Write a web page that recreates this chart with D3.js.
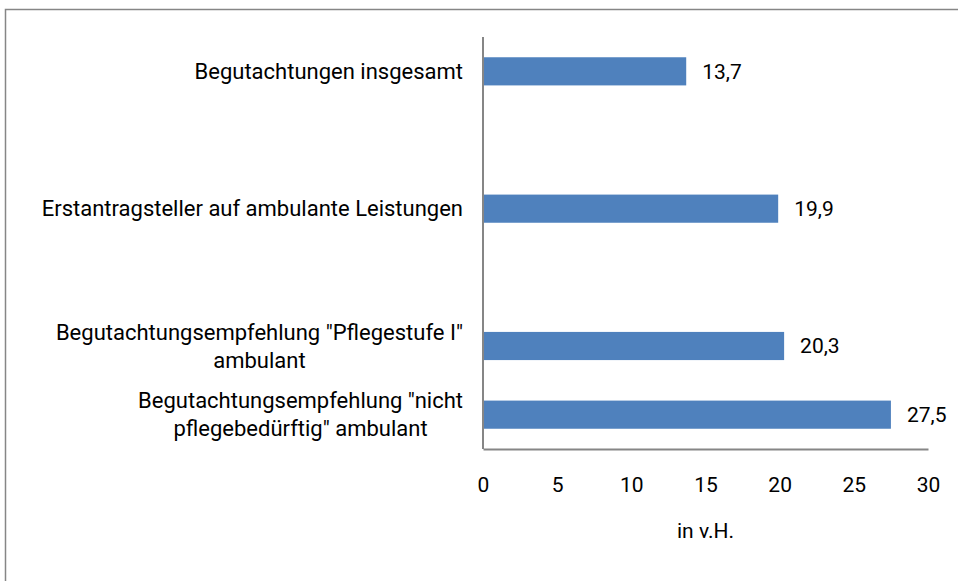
<!DOCTYPE html>
<html>
<head>
<meta charset="utf-8">
<script src="https://cdn.jsdelivr.net/npm/d3@7"></script>
<style>
  html, body { margin: 0; padding: 0; background: #fff; }
  svg { display: block; }
  text { font-family: Roboto, "Liberation Sans", sans-serif; fill: #000; }
</style>
</head>
<body>
<div id="chart"></div>
<script>
// Categories top to bottom; empty slots keep the original spacing
const categories = [
    ["Begutachtungen insgesamt"],
    [],
    ["Erstantragsteller auf ambulante Leistungen"],
    [],
    ["Begutachtungsempfehlung \"Pflegestufe I\"", "ambulant"],
    ["Begutachtungsempfehlung \"nicht", "pflegebedürftig\" ambulant"]
];
const values = [13.7, null, 19.9, null, 20.3, 27.5];
const xTicks = [0, 5, 10, 15, 20, 25, 30];
const xTitle = "in v.H.";

const width = 958, height = 581;
const margins = { top: 37, right: 30, bottom: 132, left: 483 };

const svg = d3.select("#chart").append("svg")
    .attr("width", width)
    .attr("height", height);

// Outer frame (runs off the right and bottom edge)
svg.append("path")
    .attr("d", `M5.5,${height + 5}V9.5H${width + 5}`)
    .attr("fill", "none")
    .attr("stroke", "#868686")
    .attr("stroke-width", 1.5);

const x = d3.scaleLinear()
    .domain([0, 30])
    .range([margins.left, width - margins.right]);

const y = d3.scaleBand()
    .domain(d3.range(categories.length))
    .range([margins.top, height - margins.bottom])
    .paddingInner(0.59)
    .paddingOuter(0.295);

const rows = categories.map((lines, i) => ({ i, lines, value: values[i] }));

// Bars
svg.append("g")
    .selectAll("rect")
    .data(rows.filter(d => d.value != null))
    .join("rect")
    .attr("x", x(0))
    .attr("y", d => y(d.i))
    .attr("width", d => x(d.value) - x(0))
    .attr("height", y.bandwidth())
    .attr("fill", "#4f81bd");

// Value labels
svg.append("g")
    .selectAll("text")
    .data(rows.filter(d => d.value != null))
    .join("text")
    .attr("x", d => x(d.value) + 16)
    .attr("y", d => y(d.i) + y.bandwidth() / 2)
    .attr("dy", "0.35em")
    .attr("font-size", 21)
    .text(d => d3.format(".1f")(d.value).replace(".", ","));

// X axis (no tick marks)
const xAxis = svg.append("g")
    .attr("transform", `translate(0,${height - margins.bottom})`)
    .call(d3.axisBottom(x).tickValues(xTicks).tickSize(0).tickPadding(28));
xAxis.attr("font-family", null);
xAxis.select(".domain").attr("stroke", "#868686").attr("stroke-width", 2);
xAxis.selectAll("text").attr("font-size", 21).attr("fill", "#000");

// Y axis line
svg.append("line")
    .attr("x1", x(0)).attr("x2", x(0))
    .attr("y1", margins.top).attr("y2", height - margins.bottom)
    .attr("stroke", "#868686")
    .attr("stroke-width", 2);

// Category labels, block right aligned, lines centred within the block
const labelRight = 463;
const lineH = 28;
const labels = svg.append("g")
    .selectAll("g")
    .data(rows.filter(d => d.lines.length))
    .join("g");

labels.each(function (d) {
    const g = d3.select(this);
    const cy = y(d.i) + y.bandwidth() / 2;
    const n = d.lines.length;
    const texts = d.lines.map((line, k) => g.append("text")
        .attr("y", cy + (k - (n - 1) / 2) * lineH)
        .attr("dy", "0.35em")
        .attr("font-size", 22)
        .attr("text-anchor", "middle")
        .text(line));
    const maxW = d3.max(texts, t => t.node().getComputedTextLength());
    texts.forEach(t => t.attr("x", labelRight - maxW / 2));
});

// Axis title
svg.append("text")
    .attr("x", (x(0) + x(30)) / 2)
    .attr("y", 531)
    .attr("dy", "0.35em")
    .attr("text-anchor", "middle")
    .attr("font-size", 21)
    .text(xTitle);
</script>
</body>
</html>
